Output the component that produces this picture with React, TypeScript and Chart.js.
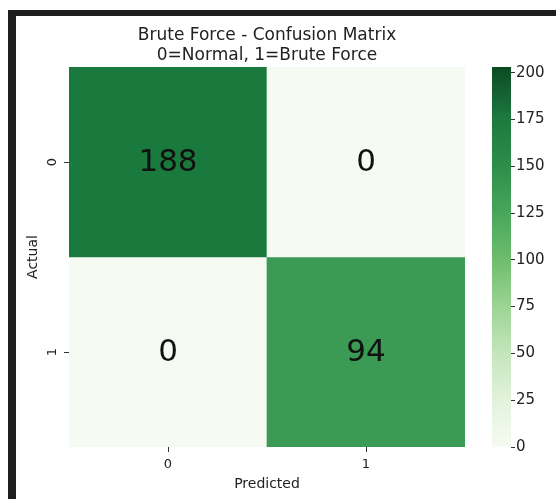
import React, { useEffect, useRef } from "react";
import { Chart, registerables } from "chart.js";

Chart.register(...registerables);

// ---- data ----
const predictedLabels = ["0", "1"];
const actualLabels = ["0", "1"];
const actualNormalRow = [188, 0];
const actualBruteForceRow = [0, 94];
const titleLines = ["Brute Force - Confusion Matrix", "0=Normal, 1=Brute Force"];
const colorbarMin = 0;
const colorbarMax = 203;
const colorbarStep = 25;

const rows = [actualNormalRow, actualBruteForceRow];

const FONT = "'DejaVu Sans', 'Liberation Sans', sans-serif";

// colour mapping for cells (value -> colour)
const cellStops: [number, number[]][] = [
  [0, [245, 251, 242]],
  [94, [59, 154, 83]],
  [188, [26, 122, 62]],
  [203, [11, 74, 35]],
];
function cellColor(v: number): string {
  for (let i = 0; i < cellStops.length - 1; i++) {
    const [a, ca] = cellStops[i];
    const [b, cb] = cellStops[i + 1];
    if (v <= b) {
      const t = Math.max(0, Math.min(1, (v - a) / (b - a)));
      const c = ca.map((x, k) => Math.round(x + (cb[k] - x) * t));
      return `rgb(${c[0]},${c[1]},${c[2]})`;
    }
  }
  const c = cellStops[cellStops.length - 1][1];
  return `rgb(${c[0]},${c[1]},${c[2]})`;
}

// colorbar gradient stops (value, colour)
const barStops: [number, string][] = [
  [0, "#f6fbf3"],
  [25, "#e2f3dc"],
  [50, "#c3e6bb"],
  [75, "#9dd494"],
  [100, "#6dbd6d"],
  [125, "#48a65b"],
  [150, "#2d8e4a"],
  [175, "#1e7a3f"],
  [203, "#0b4a23"],
];

const heatPlugin = {
  id: "heatDecor",
  afterDatasetsDraw(chart: any) {
    const ctx = chart.ctx;
    ctx.save();
    ctx.fillStyle = "#111";
    ctx.font = `31px ${FONT}`;
    ctx.textAlign = "center";
    ctx.textBaseline = "middle";
    chart.data.datasets.forEach((_ds: any, r: number) => {
      const meta = chart.getDatasetMeta(r);
      meta.data.forEach((el: any, c: number) => {
        const cy = (el.y + el.base) / 2;
        ctx.fillText(String(rows[r][c]), el.x, cy + 1);
      });
    });
    ctx.restore();
  },
  afterDraw(chart: any) {
    const ctx = chart.ctx;
    const area = chart.chartArea;
    // title centered over heatmap
    ctx.save();
    ctx.fillStyle = "#222";
    ctx.font = `17px ${FONT}`;
    ctx.textAlign = "center";
    ctx.textBaseline = "alphabetic";
    const cx = (area.left + area.right) / 2;
    titleLines.forEach((t, i) => ctx.fillText(t, cx, 40 + i * 20));
    // rotated y tick labels
    const ys = chart.scales.y;
    ctx.font = `13px ${FONT}`;
    ctx.textBaseline = "middle";
    ys.ticks.forEach((t: any, i: number) => {
      const py = ys.getPixelForValue(t.value);
      ctx.save();
      ctx.translate(area.left - 16, py);
      ctx.rotate(-Math.PI / 2);
      ctx.fillText(actualLabels[i], 0, 0);
      ctx.restore();
    });
    ctx.restore();
  },
};

export default function App() {
  const mainRef = useRef<HTMLCanvasElement>(null);
  const barRef = useRef<HTMLCanvasElement>(null);

  useEffect(() => {
    const tickGrid = {
      drawOnChartArea: false,
      drawTicks: true,
      tickLength: 5,
      color: "#333",
      offset: false,
    };
    const main = new Chart(mainRef.current!, {
      type: "bar",
      data: {
        labels: predictedLabels,
        datasets: rows.map((row, r) => ({
          label: actualLabels[r],
          data: row.map(() => [r, r + 1]),
          backgroundColor: row.map((v) => cellColor(v)),
          borderWidth: 0,
          barPercentage: 1,
          categoryPercentage: 1,
          grouped: false,
        })),
      } as any,
      options: {
        animation: false,
        responsive: false,
        devicePixelRatio: 1,
        layout: { padding: { left: 21, right: 91, top: 67, bottom: 0 } },
        plugins: { legend: { display: false }, tooltip: { enabled: false }, title: { display: false } },
        scales: {
          x: {
            type: "category",
            offset: true,
            grid: tickGrid,
            border: { display: false },
            ticks: { color: "#222", font: { family: FONT, size: 13 }, padding: 5 },
            title: {
              display: true,
              text: "Predicted",
              color: "#222",
              font: { family: FONT, size: 14 },
              padding: { top: 0, bottom: 6 },
            },
            afterFit: (s: any) => {
              s.height = 52;
            },
          },
          y: {
            type: "linear",
            min: 0,
            max: 2,
            reverse: true,
            grid: tickGrid,
            border: { display: false },
            afterBuildTicks: (s: any) => {
              s.ticks = [{ value: 0.5 }, { value: 1.5 }];
            },
            ticks: {
              color: "rgba(0,0,0,0)",
              font: { family: FONT, size: 13 },
              callback: (_v: any, i: number) => actualLabels[i],
            },
            title: {
              display: true,
              text: "Actual",
              color: "#222",
              font: { family: FONT, size: 14 },
              padding: { top: 4, bottom: 4 },
            },
            afterFit: (s: any) => {
              s.width = 48;
            },
          },
        },
      } as any,
      plugins: [heatPlugin],
    });

    const bar = new Chart(barRef.current!, {
      type: "bar",
      data: {
        labels: [""],
        datasets: [
          {
            data: [[colorbarMin, colorbarMax]],
            backgroundColor: (c: any) => {
              const a = c.chart.chartArea;
              if (!a) return "#6dbd6d";
              const g = c.chart.ctx.createLinearGradient(0, a.bottom, 0, a.top);
              barStops.forEach(([v, col]) => g.addColorStop((v - colorbarMin) / (colorbarMax - colorbarMin), col));
              return g;
            },
            borderWidth: 0,
            barPercentage: 1,
            categoryPercentage: 1,
          },
        ],
      } as any,
      options: {
        animation: false,
        responsive: false,
        devicePixelRatio: 1,
        layout: { padding: { left: 12, right: 0, top: 67, bottom: 52 } },
        plugins: { legend: { display: false }, tooltip: { enabled: false } },
        scales: {
          x: { display: false },
          y: {
            type: "linear",
            position: "right",
            min: colorbarMin,
            max: colorbarMax,
            grid: { drawOnChartArea: false, drawTicks: true, tickLength: 4, color: "#333" },
            border: { display: false },
            ticks: {
              stepSize: colorbarStep,
              includeBounds: false,
              color: "#222",
              font: { family: FONT, size: 15 },
              padding: 1,
            },
            afterFit: (s: any) => {
              s.width = 45;
            },
          },
        },
      } as any,
    });

    return () => {
      main.destroy();
      bar.destroy();
    };
  }, []);

  return (
    <div style={{ position: "fixed", left: 0, top: 0, width: 556, height: 499, background: "#fff", overflow: "hidden" }}>
      <canvas ref={mainRef} width={556} height={499} style={{ position: "absolute", left: 0, top: 0, width: 556, height: 499 }} />
      <canvas ref={barRef} width={76} height={499} style={{ position: "absolute", left: 480, top: 0, width: 76, height: 499 }} />
      <div style={{ position: "absolute", left: 8, top: 10, width: 548, height: 6, background: "#1e1e1e" }} />
      <div style={{ position: "absolute", left: 8, top: 10, width: 8, height: 489, background: "#1e1e1e" }} />
    </div>
  );
}
